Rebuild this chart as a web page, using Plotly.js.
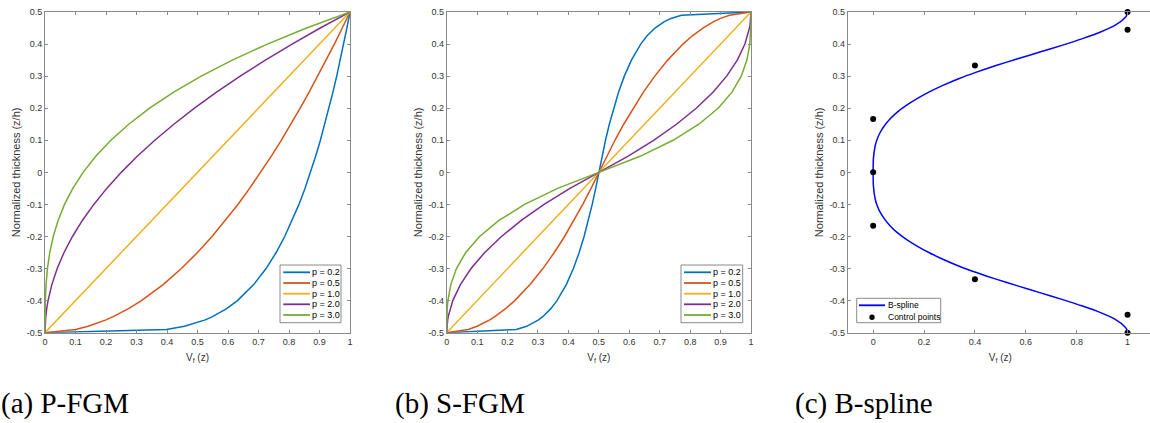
<!DOCTYPE html>
<html>
<head>
<meta charset="utf-8">
<script src="https://cdn.plot.ly/plotly-3.0.1.min.js"></script>
<style>
html,body{margin:0;padding:0;background:#fff;overflow:hidden;}
#chart{width:1153px;height:423px;}
</style>
</head>
<body>
<div id="chart"></div>
<script>
// ---------- data ----------
// Panel (a) P-FGM: normalized thickness (z/h) and volume fraction Vf(z) per power index p
const zA = [-0.5, -0.49, -0.48, -0.47, -0.46, -0.45, -0.425, -0.4, -0.35, -0.3, -0.25, -0.2, -0.15, -0.1, -0.05, 0, 0.05, 0.1, 0.15, 0.2, 0.25, 0.3, 0.35, 0.4, 0.45, 0.5];
const vA_p02 = [0, 0.3981, 0.4573, 0.4959, 0.5253, 0.5493, 0.5957, 0.6310, 0.6843, 0.7248, 0.7579, 0.7860, 0.8106, 0.8326, 0.8524, 0.8706, 0.8873, 0.9029, 0.9174, 0.9311, 0.9441, 0.9564, 0.9680, 0.9791, 0.9898, 1];
const vA_p05 = [0, 0.1, 0.1414, 0.1732, 0.2, 0.2236, 0.2739, 0.3162, 0.3873, 0.4472, 0.5, 0.5477, 0.5916, 0.6325, 0.6708, 0.7071, 0.7416, 0.7746, 0.8062, 0.8367, 0.8660, 0.8944, 0.9220, 0.9487, 0.9747, 1];
const vA_p10 = [0, 0.01, 0.02, 0.03, 0.04, 0.05, 0.075, 0.1, 0.15, 0.2, 0.25, 0.3, 0.35, 0.4, 0.45, 0.5, 0.55, 0.6, 0.65, 0.7, 0.75, 0.8, 0.85, 0.9, 0.95, 1];
const vA_p20 = [0, 0.0001, 0.0004, 0.0009, 0.0016, 0.0025, 0.0056, 0.01, 0.0225, 0.04, 0.0625, 0.09, 0.1225, 0.16, 0.2025, 0.25, 0.3025, 0.36, 0.4225, 0.49, 0.5625, 0.64, 0.7225, 0.81, 0.9025, 1];
const vA_p30 = [0, 0, 0, 0, 0.0001, 0.0001, 0.0004, 0.001, 0.0034, 0.008, 0.0156, 0.027, 0.0429, 0.064, 0.0911, 0.125, 0.1664, 0.216, 0.2746, 0.343, 0.4219, 0.512, 0.6141, 0.729, 0.8574, 1];

// Panel (b) S-FGM
const zB = [-0.5, -0.49, -0.48, -0.47, -0.46, -0.45, -0.425, -0.4, -0.35, -0.3, -0.25, -0.2, -0.15, -0.1, -0.05, 0, 0.05, 0.1, 0.15, 0.2, 0.25, 0.3, 0.35, 0.4, 0.425, 0.45, 0.46, 0.47, 0.48, 0.49, 0.5];
const vB_p02 = [0, 0.2287, 0.2627, 0.2849, 0.3017, 0.3155, 0.3422, 0.3624, 0.3930, 0.4163, 0.4353, 0.4515, 0.4656, 0.4782, 0.4896, 0.5, 0.5104, 0.5218, 0.5344, 0.5485, 0.5647, 0.5837, 0.6070, 0.6376, 0.6578, 0.6845, 0.6983, 0.7151, 0.7373, 0.7713, 1];
const vB_p05 = [0, 0.0707, 0.1, 0.1225, 0.1414, 0.1581, 0.1936, 0.2236, 0.2739, 0.3162, 0.3536, 0.3873, 0.4183, 0.4472, 0.4743, 0.5, 0.5257, 0.5528, 0.5817, 0.6127, 0.6464, 0.6838, 0.7261, 0.7764, 0.8064, 0.8419, 0.8586, 0.8775, 0.9, 0.9293, 1];
const vB_p10 = [0, 0.01, 0.02, 0.03, 0.04, 0.05, 0.075, 0.1, 0.15, 0.2, 0.25, 0.3, 0.35, 0.4, 0.45, 0.5, 0.55, 0.6, 0.65, 0.7, 0.75, 0.8, 0.85, 0.9, 0.925, 0.95, 0.96, 0.97, 0.98, 0.99, 1];
const vB_p20 = [0, 0.0002, 0.0008, 0.0018, 0.0032, 0.005, 0.0113, 0.02, 0.045, 0.08, 0.125, 0.18, 0.245, 0.32, 0.405, 0.5, 0.595, 0.68, 0.755, 0.82, 0.875, 0.92, 0.955, 0.98, 0.9887, 0.995, 0.9968, 0.9982, 0.9992, 0.9998, 1];
const vB_p30 = [0, 0, 0, 0.0001, 0.0003, 0.0005, 0.0017, 0.004, 0.0135, 0.032, 0.0625, 0.108, 0.1715, 0.256, 0.3645, 0.5, 0.6355, 0.744, 0.8285, 0.892, 0.9375, 0.968, 0.9865, 0.996, 0.9983, 0.9995, 0.9997, 0.9999, 1, 1, 1];

// Panel (c) B-spline curve and its control points
const zC = [-0.5, -0.492, -0.483, -0.458, -0.4375, -0.417, -0.396, -0.375, -0.354, -0.333, -0.3125, -0.292, -0.271, -0.25, -0.229, -0.208, -0.188, -0.167, -0.146, -0.125, -0.104, -0.083, -0.042, 0, 0.042, 0.083, 0.104, 0.125, 0.146, 0.167, 0.188, 0.208, 0.229, 0.25, 0.271, 0.292, 0.3125, 0.333, 0.354, 0.375, 0.396, 0.417, 0.4375, 0.458, 0.483, 0.492, 0.5];
const vC = [1, 0.998, 0.991, 0.950, 0.894, 0.823, 0.742, 0.655, 0.568, 0.483, 0.406, 0.336, 0.274, 0.219, 0.171, 0.129, 0.095, 0.067, 0.045, 0.028, 0.016, 0.008, 0.001, 0, 0.001, 0.008, 0.016, 0.028, 0.045, 0.067, 0.095, 0.129, 0.171, 0.219, 0.274, 0.336, 0.406, 0.483, 0.568, 0.655, 0.742, 0.823, 0.894, 0.950, 0.991, 0.998, 1];
const ctrlV = [1, 1, 0.4, 0, 0, 0, 0.4, 1, 1];
const ctrlZ = [-0.5, -0.4444, -0.3333, -0.1667, 0, 0.1667, 0.3333, 0.4444, 0.5];

const seriesNames = ['p = 0.2', 'p = 0.5', 'p = 1.0', 'p = 2.0', 'p = 3.0'];
const splineNames = ['B-spline', 'Control points'];
const yTicks = [-0.5, -0.4, -0.3, -0.2, -0.1, 0, 0.1, 0.2, 0.3, 0.4, 0.5];
const yTickText = ['-0.5', '-0.4', '-0.3', '-0.2', '-0.1', '0', '0.1', '0.2', '0.3', '0.4', '0.5'];
const xTicksAB = [0, 0.1, 0.2, 0.3, 0.4, 0.5, 0.6, 0.7, 0.8, 0.9, 1];
const xTickTextAB = ['0', '0.1', '0.2', '0.3', '0.4', '0.5', '0.6', '0.7', '0.8', '0.9', '1'];
const xTicksC = [0, 0.2, 0.4, 0.6, 0.8, 1];
const xTickTextC = ['0', '0.2', '0.4', '0.6', '0.8', '1'];
const captions = ['(a) P-FGM', '(b) S-FGM', '(c) B-spline'];

// ---------- styling ----------
const W = 1153, H = 423;
const colors = ['#0072BD', '#D95319', '#EDB120', '#7E2F8E', '#77AC30'];
const axisCol = '#8a8a8a';
const textCol = '#333333';
const sans = 'Liberation Sans, Arial, sans-serif';
const px = v => v / W;
const py = v => 1 - v / H;
const yDom = [py(332.7), py(12)];
const tickFont = {family: sans, size: 9, color: textCol};

const traces = [];
const vA = [vA_p02, vA_p05, vA_p10, vA_p20, vA_p30];
const vB = [vB_p02, vB_p05, vB_p10, vB_p20, vB_p30];
vA.forEach((v, i) => traces.push({x: v, y: zA, type: 'scatter', mode: 'lines', name: seriesNames[i],
  line: {color: colors[i], width: 1.5}, xaxis: 'x', yaxis: 'y'}));
vB.forEach((v, i) => traces.push({x: v, y: zB, type: 'scatter', mode: 'lines', name: seriesNames[i],
  line: {color: colors[i], width: 1.5}, xaxis: 'x2', yaxis: 'y2'}));
traces.push({x: vC, y: zC, type: 'scatter', mode: 'lines', name: splineNames[0],
  line: {color: '#0000FF', width: 1.5, shape: 'spline', smoothing: 0.6}, xaxis: 'x3', yaxis: 'y3'});
traces.push({x: ctrlV, y: ctrlZ, type: 'scatter', mode: 'markers', name: splineNames[1], cliponaxis: false,
  marker: {color: '#000000', size: 6}, xaxis: 'x3', yaxis: 'y3'});

function xAxis(dom, range, tv, tt, anchor) {
  return {domain: dom, range: range, anchor: anchor, tickvals: tv, ticktext: tt, ticks: 'inside', ticklen: 3,
    tickcolor: axisCol, showline: true, linecolor: axisCol, linewidth: 1, mirror: 'allticks', showgrid: false,
    zeroline: false, tickfont: tickFont, fixedrange: true,
    title: {text: 'V<sub>f</sub> (z)', font: {family: sans, size: 10, color: textCol}, standoff: 8}};
}
function yAxis(anchor) {
  return {domain: yDom, range: [-0.5, 0.5], anchor: anchor, tickvals: yTicks, ticktext: yTickText, ticks: 'inside', ticklen: 3,
    tickcolor: axisCol, showline: true, linecolor: axisCol, linewidth: 1, mirror: 'allticks', showgrid: false,
    zeroline: false, tickfont: tickFont, fixedrange: true,
    title: {text: 'Normalized thickness (z/h)', font: {family: sans, size: 11, color: textCol}, standoff: 3}};
}

// ---------- compact MATLAB-style legends (box, key samples, labels) ----------
const shapes = [];
const annotations = [];
function addLegend(box, rows, names, sampleX, textX, kinds, fsize) {
  shapes.push({type: 'rect', xref: 'paper', yref: 'paper', layer: 'above',
    x0: px(box[0]), x1: px(box[1]), y0: py(box[3]), y1: py(box[2]),
    line: {color: axisCol, width: 1}, fillcolor: '#ffffff'});
  names.forEach((n, i) => {
    const k = kinds[i];
    if (k.type === 'line') {
      shapes.push({type: 'line', xref: 'paper', yref: 'paper', layer: 'above',
        x0: px(sampleX[0]), x1: px(sampleX[1]), y0: py(rows[i]), y1: py(rows[i]),
        line: {color: k.color, width: 1.8}});
    } else {
      const cx = (sampleX[0] + sampleX[1]) / 2;
      shapes.push({type: 'circle', xref: 'paper', yref: 'paper', layer: 'above',
        x0: px(cx - 2.7), x1: px(cx + 2.7), y0: py(rows[i] + 2.7), y1: py(rows[i] - 2.7),
        line: {color: k.color, width: 0}, fillcolor: k.color});
    }
    annotations.push({text: n, xref: 'paper', yref: 'paper', x: px(textX), y: py(rows[i]),
      xanchor: 'left', yanchor: 'middle', showarrow: false, borderpad: 0,
      font: {family: sans, size: fsize, color: '#000'}});
  });
}
const lineKinds = colors.map(c => ({type: 'line', color: c}));
addLegend([280, 341, 265, 322.7], [272.3, 283, 293.7, 304.3, 315], seriesNames, [283.3, 310], 310.5, lineKinds, 9);
addLegend([681, 742.7, 265, 322.7], [272.3, 283, 293.7, 304.3, 315], seriesNames, [684, 711], 711.5, lineKinds, 9);
addLegend([856.7, 940.7, 298.3, 322.7], [305.3, 317.3], splineNames, [859, 885], 887,
  [{type: 'line', color: '#0000FF'}, {type: 'marker', color: '#000000'}], 8.5);

const capFont = {family: 'Liberation Serif, Times New Roman, serif', size: 29, color: '#000'};
const capX = [0, 394, 794];
captions.forEach((c, i) => annotations.push({text: c, xref: 'paper', yref: 'paper', x: px(capX[i]), y: py(403),
  xanchor: 'left', yanchor: 'middle', showarrow: false, borderpad: 0, font: capFont}));

const layout = {
  width: W, height: H, margin: {l: 0, r: 0, t: 0, b: 0}, paper_bgcolor: '#fff', plot_bgcolor: '#fff',
  showlegend: false,
  xaxis: xAxis([px(45), px(350)], [0, 1], xTicksAB, xTickTextAB, 'y'),
  yaxis: yAxis('x'),
  xaxis2: xAxis([px(446.7), px(751)], [0, 1], xTicksAB, xTickTextAB, 'y2'),
  yaxis2: yAxis('x2'),
  xaxis3: xAxis([px(847.7), 1], [-0.1, 1.1], xTicksC, xTickTextC, 'y3'),
  yaxis3: yAxis('x3'),
  shapes: shapes,
  annotations: annotations
};
Plotly.newPlot('chart', traces, layout, {staticPlot: true, displayModeBar: false});
</script>
</body>
</html>
